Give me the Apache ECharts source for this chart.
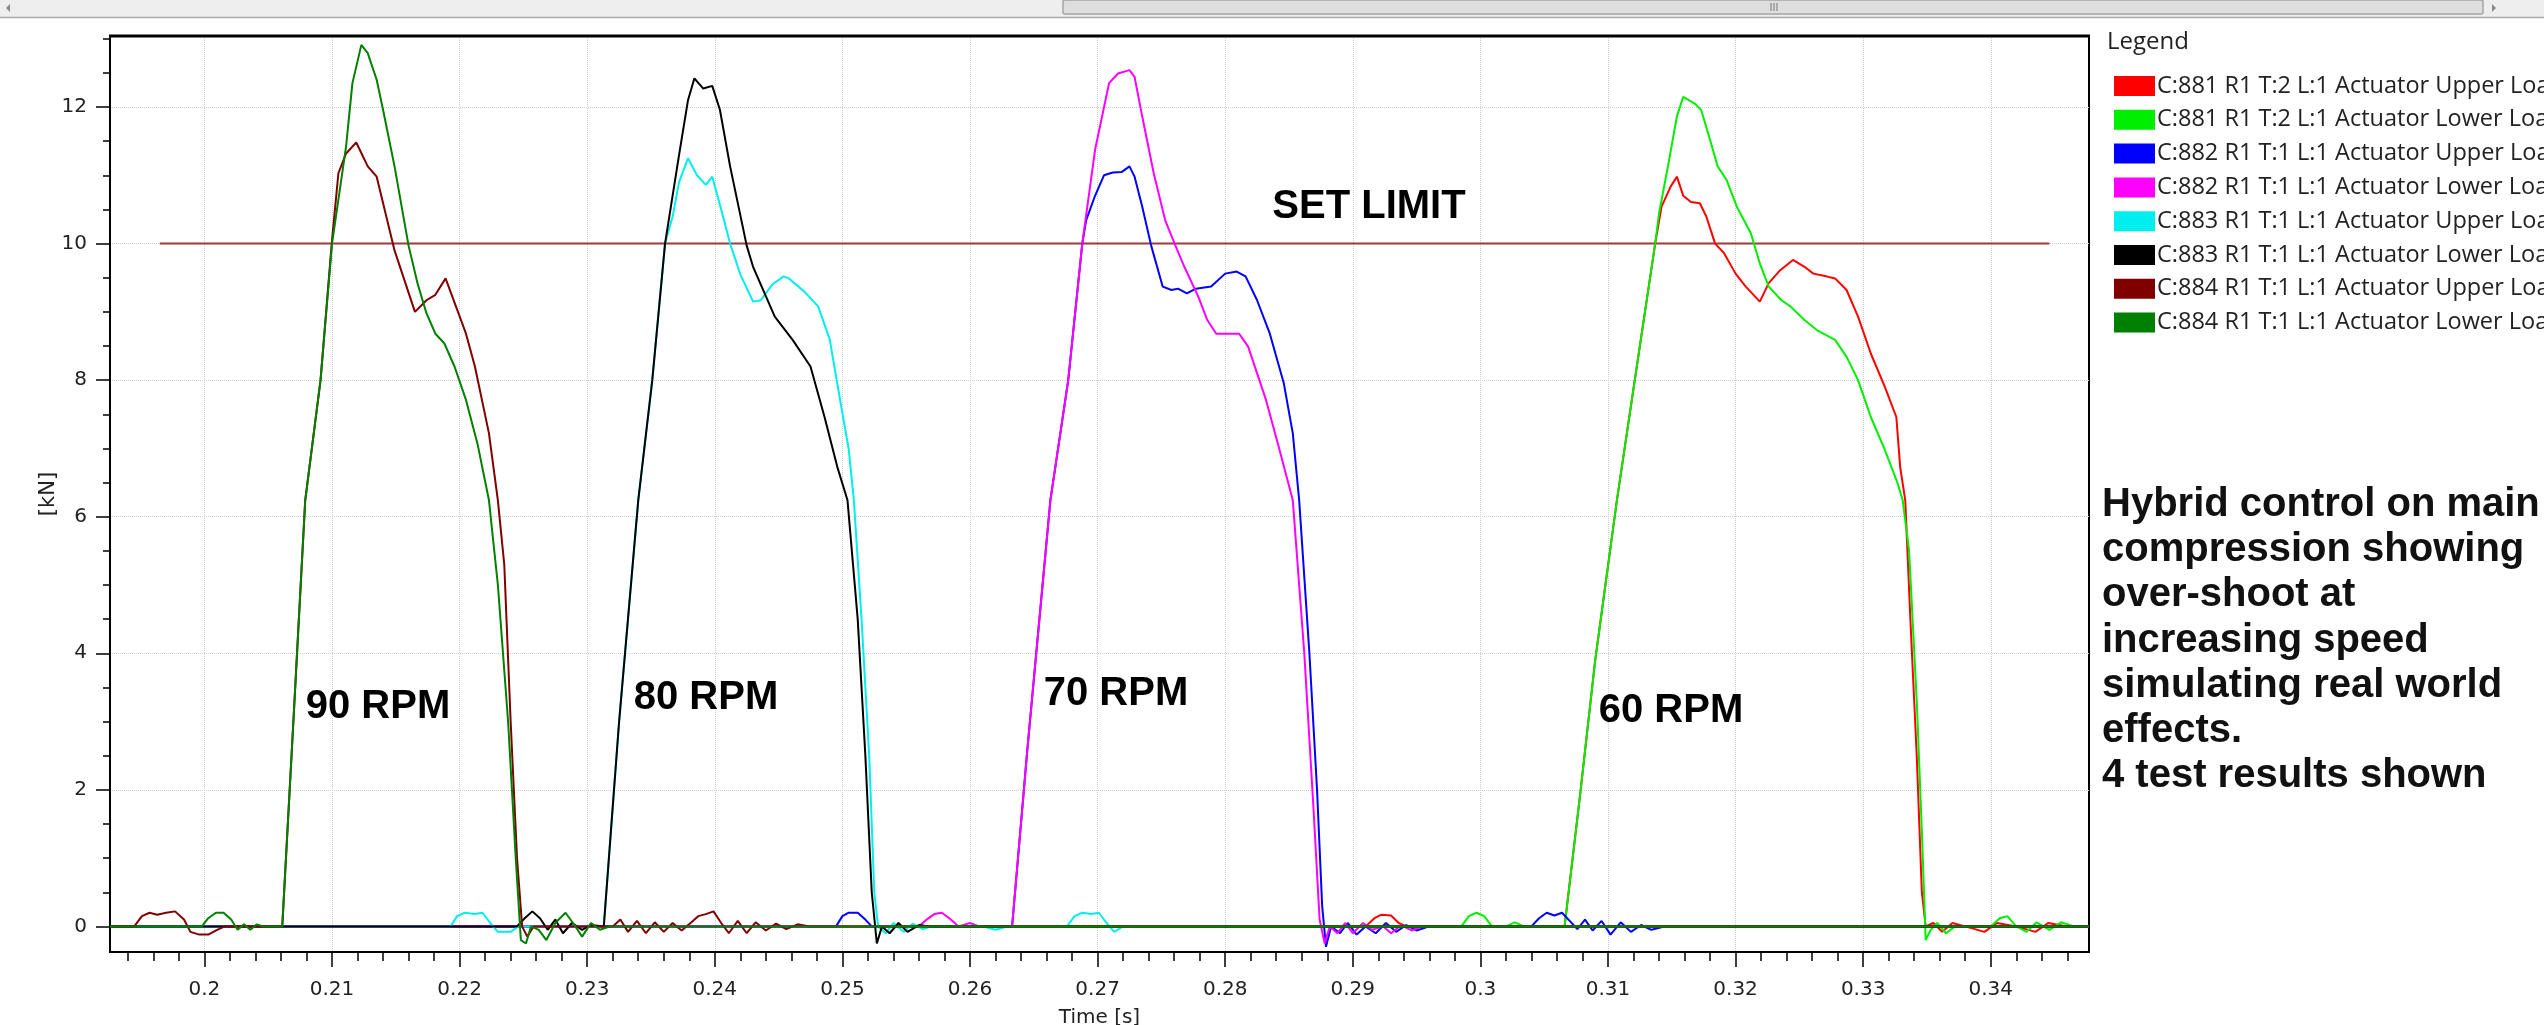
<!DOCTYPE html>
<html><head><meta charset="utf-8">
<script src="https://cdn.jsdelivr.net/npm/echarts@6/dist/echarts.min.js"></script>
<style>html,body{margin:0;padding:0;background:#fff;}#c{width:2544px;height:1025px;}</style>
</head><body><div id="c"></div>
<script>
// ---------- data ----------
const SERIES_NAMES = [
  'C:881 R1 T:2 L:1 Actuator Upper Load',
  'C:881 R1 T:2 L:1 Actuator Lower Load',
  'C:882 R1 T:1 L:1 Actuator Upper Load',
  'C:882 R1 T:1 L:1 Actuator Lower Load',
  'C:883 R1 T:1 L:1 Actuator Upper Load',
  'C:883 R1 T:1 L:1 Actuator Lower Load',
  'C:884 R1 T:1 L:1 Actuator Upper Load',
  'C:884 R1 T:1 L:1 Actuator Lower Load'
];
const X_MIN = 0.1926, X_MAX = 0.3477;
const Y_MIN = -0.375, Y_MAX = 13.04;
const X_MAJOR = [0.2,0.21,0.22,0.23,0.24,0.25,0.26,0.27,0.28,0.29,0.3,0.31,0.32,0.33,0.34];
const X_MINOR = [0.194,0.196,0.198,0.202,0.204,0.206,0.208,0.212,0.214,0.216,0.218,0.222,0.224,0.226,0.228,
  0.232,0.234,0.236,0.238,0.242,0.244,0.246,0.248,0.252,0.254,0.256,0.258,0.262,0.264,0.266,0.268,
  0.272,0.274,0.276,0.278,0.282,0.284,0.286,0.288,0.292,0.294,0.296,0.298,0.302,0.304,0.306,0.308,
  0.312,0.314,0.316,0.318,0.322,0.324,0.326,0.328,0.332,0.334,0.336,0.338,0.342,0.344,0.346];
const Y_MAJOR = [0,2,4,6,8,10,12];
const Y_MINOR = [0.5,1,1.5,2.5,3,3.5,4.5,5,5.5,6.5,7,7.5,8.5,9,9.5,10.5,11,11.5,12.5,13];
const LIMIT_T = [0.1965, 0.3446];
const LIMIT_VALUE = 10;

// C:881 (60 RPM)
const C881_UPPER = [[0.1926,0],[0.2910,0],[0.2917,0.12],[0.2922,0.17],[0.2930,0.16],[0.2936,0.05],[0.2942,0],
  [0.3066,0],[0.3078,1.9],[0.3090,3.9],[0.3107,6.24],[0.3121,8.0],[0.3137,10.0],[0.3142,10.54],[0.3149,10.83],
  [0.3154,10.98],[0.3159,10.7],[0.3165,10.61],[0.3172,10.59],[0.3177,10.4],[0.3184,10.0],[0.3191,9.86],[0.3200,9.56],
  [0.3208,9.37],[0.3219,9.15],[0.3226,9.42],[0.3235,9.61],[0.3245,9.76],[0.3254,9.66],[0.3261,9.56],[0.3271,9.52],
  [0.3278,9.49],[0.3287,9.32],[0.3296,8.93],[0.3306,8.39],[0.3317,7.9],[0.3326,7.46],[0.3329,6.73],[0.3333,6.24],
  [0.3337,4.5],[0.3342,2.5],[0.3346,0.5],[0.3349,0],[0.3355,0.05],[0.3362,-0.08],[0.3370,0.05],[0.3380,0],
  [0.3395,-0.08],[0.3405,0.05],[0.3420,0],[0.3435,-0.08],[0.3445,0.05],[0.3460,0],[0.3477,0]];
const C881_LOWER = [[0.1926,0],[0.2985,0],[0.2991,0.15],[0.2997,0.2],[0.3003,0.15],[0.3009,0],[0.3020,0],[0.3027,0.06],
  [0.3034,0],[0.3066,0],[0.3078,1.9],[0.3090,3.9],[0.3107,6.24],[0.3121,8.0],[0.3137,10.0],[0.3140,10.44],[0.3147,11.13],
  [0.3154,11.86],[0.3159,12.15],[0.3168,12.05],[0.3173,11.96],[0.3180,11.52],[0.3186,11.13],[0.3193,10.93],[0.3201,10.54],
  [0.3212,10.15],[0.3219,9.71],[0.3226,9.37],[0.3236,9.17],[0.3243,9.08],[0.3254,8.88],[0.3264,8.73],[0.3278,8.59],
  [0.3287,8.34],[0.3296,8.0],[0.3306,7.46],[0.3317,6.98],[0.3327,6.49],[0.3331,6.24],[0.3336,5.5],[0.3342,3.3],
  [0.3346,1.4],[0.3349,-0.2],[0.3353,-0.05],[0.3358,0.05],[0.3365,-0.1],[0.3372,0],[0.3400,0],[0.3407,0.12],[0.3413,0.15],
  [0.3420,0],[0.3428,-0.08],[0.3436,0.06],[0.3446,-0.05],[0.3455,0.06],[0.3465,0],[0.3477,0]];
// C:882 (70 RPM)
const C882_UPPER = [[0.1926,0],[0.2495,0],[0.2500,0.15],[0.2505,0.2],[0.2512,0.2],[0.2518,0.1],[0.2523,0],
  [0.2633,0],[0.2645,2.6],[0.2663,6.24],[0.2677,8.0],[0.2688,10.0],[0.2691,10.34],[0.2698,10.7],[0.2705,11.0],
  [0.2712,11.04],[0.2719,11.05],[0.2725,11.13],[0.2729,10.98],[0.2735,10.54],[0.2742,9.97],[0.2751,9.37],[0.2758,9.32],
  [0.2763,9.34],[0.2770,9.27],[0.2777,9.34],[0.2789,9.37],[0.2800,9.56],[0.2809,9.59],[0.2816,9.52],[0.2825,9.17],
  [0.2835,8.68],[0.2846,7.95],[0.2853,7.22],[0.2858,6.24],[0.2866,4.0],[0.2872,2.0],[0.2876,0.3],[0.2879,-0.3],
  [0.2883,0],[0.2890,-0.1],[0.2896,0.05],[0.2903,-0.12],[0.2910,0],[0.2918,-0.1],[0.2926,0.05],[0.2934,-0.08],
  [0.2942,0.02],[0.2950,-0.06],[0.2960,0],[0.3040,0],[0.3046,0.12],[0.3052,0.2],[0.3058,0.16],[0.3064,0.2],
  [0.3070,0.08],[0.3076,-0.04],[0.3082,0.1],[0.3088,-0.06],[0.3095,0.08],[0.3102,-0.12],[0.3110,0.06],[0.3118,-0.08],
  [0.3126,0.02],[0.3134,-0.05],[0.3145,0],[0.3477,0]];
const C882_LOWER = [[0.1926,0],[0.2560,0],[0.2566,0.1],[0.2572,0.18],[0.2578,0.2],[0.2585,0.1],[0.2591,0],[0.2600,0.05],
  [0.2607,0],[0.2633,0],[0.2645,2.6],[0.2663,6.24],[0.2677,8.0],[0.2688,10.0],[0.2698,11.37],[0.2709,12.35],[0.2716,12.49],
  [0.2725,12.54],[0.2729,12.44],[0.2735,11.86],[0.2744,11.03],[0.2753,10.34],[0.2761,9.97],[0.2768,9.66],[0.2779,9.22],
  [0.2786,8.88],[0.2793,8.68],[0.2811,8.68],[0.2818,8.49],[0.2832,7.71],[0.2842,7.02],[0.2853,6.24],[0.2862,4.0],
  [0.2869,1.8],[0.2874,0.1],[0.2878,-0.25],[0.2882,0],[0.2888,-0.1],[0.2894,0.05],[0.2900,-0.1],[0.2908,0.05],
  [0.2915,-0.05],[0.2924,0],[0.2930,-0.1],[0.2938,0.02],[0.2946,-0.06],[0.2955,0],[0.3477,0]];
// C:883 (80 RPM)
const C883_UPPER = [[0.1926,0],[0.2193,0],[0.2198,0.15],[0.2204,0.2],[0.2212,0.18],[0.2218,0.2],[0.2224,0.05],[0.2230,-0.08],
  [0.2240,-0.08],[0.2246,0],[0.2313,0],[0.2325,3.0],[0.2340,6.24],[0.2351,8.0],[0.2361,10.0],[0.2367,10.4],[0.2372,10.9],
  [0.2379,11.25],[0.2386,11.0],[0.2393,10.86],[0.2398,10.98],[0.2405,10.5],[0.2412,10.0],[0.2420,9.55],[0.2430,9.15],
  [0.2436,9.17],[0.2445,9.4],[0.2454,9.52],[0.2458,9.49],[0.2470,9.3],[0.2481,9.08],[0.2490,8.6],[0.2496,7.95],
  [0.2505,6.98],[0.2509,6.24],[0.2515,4.5],[0.2521,2.5],[0.2525,0.5],[0.2528,0],[0.2534,-0.1],[0.2540,0.05],
  [0.2548,-0.08],[0.2555,0.04],[0.2563,-0.04],[0.2570,0],[0.2610,0],[0.2620,-0.05],[0.2630,0],[0.2676,0],[0.2682,0.15],
  [0.2688,0.2],[0.2695,0.18],[0.2701,0.2],[0.2707,0.05],[0.2713,-0.08],[0.2720,0],[0.3477,0]];
const C883_LOWER = [[0.1926,0],[0.2245,0],[0.2251,0.12],[0.2257,0.22],[0.2263,0.12],[0.2269,-0.05],[0.2275,0.1],[0.2281,-0.1],
  [0.2288,0.05],[0.2296,-0.05],[0.2303,0.02],[0.2313,0],[0.2325,3.0],[0.2340,6.24],[0.2351,8.0],[0.2361,10.0],[0.2372,11.3],
  [0.2379,12.1],[0.2384,12.42],[0.2391,12.27],[0.2398,12.31],[0.2404,11.96],[0.2412,11.13],[0.2425,9.97],[0.2430,9.66],
  [0.2447,8.93],[0.2461,8.59],[0.2475,8.2],[0.2486,7.46],[0.2496,6.73],[0.2504,6.24],[0.2512,4.5],[0.2518,2.5],
  [0.2523,0.5],[0.2527,-0.25],[0.2531,0],[0.2537,-0.1],[0.2544,0.05],[0.2551,-0.08],[0.2560,0.02],[0.2568,0],[0.3477,0]];
// C:884 (90 RPM)
const C884_UPPER = [[0.1926,0],[0.1945,0],[0.1951,0.15],[0.1957,0.2],[0.1963,0.17],[0.1970,0.2],[0.1977,0.22],[0.1984,0.1],
  [0.1989,-0.08],[0.1996,-0.12],[0.2003,-0.12],[0.2010,-0.05],[0.2016,0],[0.2061,0],[0.2070,3.1],[0.2079,6.24],[0.2091,8.0],
  [0.2100,10.05],[0.2105,11.03],[0.2111,11.32],[0.2119,11.48],[0.2128,11.13],[0.2135,10.98],[0.2149,9.9],[0.2165,9.0],
  [0.2174,9.17],[0.2181,9.25],[0.2189,9.49],[0.2205,8.68],[0.2212,8.2],[0.2223,7.22],[0.2230,6.24],[0.2235,5.3],
  [0.2240,3.0],[0.2245,1.0],[0.2249,0],[0.2253,-0.15],[0.2258,0],[0.2320,0],[0.2326,0.1],[0.2332,-0.08],[0.2339,0.08],
  [0.2346,-0.1],[0.2353,0.06],[0.2360,-0.08],[0.2367,0.05],[0.2374,-0.06],[0.2381,0.05],[0.2387,0.15],[0.2393,0.18],
  [0.2399,0.22],[0.2405,0.05],[0.2411,-0.1],[0.2418,0.08],[0.2425,-0.1],[0.2432,0.06],[0.2440,-0.06],[0.2448,0.04],
  [0.2456,-0.04],[0.2465,0.03],[0.2474,0],[0.3477,0]];
const C884_LOWER = [[0.1926,0],[0.1998,0],[0.2003,0.12],[0.2009,0.2],[0.2015,0.2],[0.2021,0.1],[0.2026,-0.05],[0.2031,0.03],
  [0.2036,-0.05],[0.2041,0.03],[0.2046,0],[0.2061,0],[0.2070,3.1],[0.2079,6.24],[0.2091,8.0],[0.2100,10.0],[0.2111,11.42],
  [0.2116,12.35],[0.2123,12.91],[0.2128,12.79],[0.2135,12.4],[0.2140,11.96],[0.2149,11.13],[0.2160,9.97],[0.2167,9.42],
  [0.2174,8.98],[0.2181,8.68],[0.2188,8.54],[0.2196,8.2],[0.2205,7.71],[0.2214,7.07],[0.2223,6.24],[0.2230,5.0],
  [0.2238,3.0],[0.2244,1.0],[0.2248,-0.2],[0.2252,-0.25],[0.2256,0],[0.2262,-0.05],[0.2268,-0.2],[0.2275,0.05],
  [0.2283,0.2],[0.2290,0.02],[0.2296,-0.15],[0.2303,0.05],[0.2310,-0.05],[0.2318,0],[0.3477,0]];

const SERIES_DATA = [C881_UPPER, C881_LOWER, C882_UPPER, C882_LOWER, C883_UPPER, C883_LOWER, C884_UPPER, C884_LOWER];
const SERIES_COLORS = ['#ff0000','#00ee00','#0000ff','#ff00ff','#00eeee','#000000','#800000','#008000'];

const RPM_LABELS = ['90 RPM','80 RPM','70 RPM','60 RPM'];
const NOTE_TEXT = 'Hybrid control on main\ncompression showing\nover-shoot at\nincreasing speed\nsimulating real world\neffects.\n4 test results shown';

// ---------- chart ----------
const chart = echarts.init(document.getElementById('c'), null, {renderer:'canvas'});
const FONT = '"Open Sans", "Noto Sans", sans-serif';
const AXFONT = '"DejaVu Sans", Verdana, sans-serif';
const BOLD = '"Liberation Sans", Arial, sans-serif';

const series = SERIES_NAMES.map((n,i)=>({
  name:n, type:'line', xAxisIndex:0, yAxisIndex:0, data:SERIES_DATA[i],
  showSymbol:false, symbol:'none', smooth:false, animation:false,
  lineStyle:{width:2, color:SERIES_COLORS[i]}, itemStyle:{color:SERIES_COLORS[i]}, z:2+i
}));
series.unshift({
  name:'SET LIMIT', type:'line', xAxisIndex:0, yAxisIndex:0,
  data: LIMIT_T.map(t=>[t, LIMIT_VALUE]), showSymbol:false, symbol:'none', animation:false,
  lineStyle:{width:2, color:'#9a3c3c'}, itemStyle:{color:'#9a3c3c'}, z:1
});

const RPM_POS = [[378,707],[706,698],[1116,694],[1671,711]];

const graphic = [
  {type:'rect', shape:{x:0,y:0,width:2544,height:17}, style:{fill:'#eeeeee'}, z:100},
  {type:'line', shape:{x1:0,y1:17.5,x2:2544,y2:17.5}, style:{stroke:'#a8a8a8', lineWidth:1.5}, z:101},
  {type:'rect', shape:{x:1063,y:0,width:1420,height:14, r:2}, style:{fill:'#dedede', stroke:'#a4a4a4', lineWidth:1.5}, z:101},
  {type:'line', shape:{x1:1771,y1:3,x2:1771,y2:11}, style:{stroke:'#777', lineWidth:1}, z:102},
  {type:'line', shape:{x1:1774,y1:3,x2:1774,y2:11}, style:{stroke:'#777', lineWidth:1}, z:102},
  {type:'line', shape:{x1:1777,y1:3,x2:1777,y2:11}, style:{stroke:'#777', lineWidth:1}, z:102},
  {type:'polygon', shape:{points:[[10,4],[10,12],[6,8]]}, style:{fill:'#888'}, z:102},
  {type:'polygon', shape:{points:[[2492,4],[2492,12],[2496,8]]}, style:{fill:'#888'}, z:102},
  {type:'line', shape:{x1:109,y1:36,x2:2090,y2:36}, style:{stroke:'#000', lineWidth:3}, z:100},
  {type:'text', style:{text:'Legend', x:2107, y:42, font:'24px '+FONT, fill:'#222', verticalAlign:'middle', textVerticalAlign:'middle'}, z:100},
  {type:'text', style:{text:'SET LIMIT', x:1369, y:207, font:'bold 40px '+BOLD, fill:'#000', align:'center', verticalAlign:'middle', textAlign:'center', textVerticalAlign:'middle'}, z:100},
  {type:'text', style:{text:NOTE_TEXT, x:2102, y:482, font:'bold 40px '+BOLD, lineHeight:45.3, fill:'#111', verticalAlign:'top', textVerticalAlign:'top'}, z:100}
];
RPM_LABELS.forEach((t,i)=>graphic.push({type:'text', style:{text:t, x:RPM_POS[i][0], y:RPM_POS[i][1], font:'bold 40px '+BOLD, fill:'#000', align:'center', verticalAlign:'middle', textAlign:'center', textVerticalAlign:'middle'}, z:100}));

const option = {
  animation:false,
  backgroundColor:'#ffffff',
  grid:{left:110, right:455, top:36, bottom:73, show:true, borderColor:'#000', borderWidth:2, backgroundColor:'transparent', containLabel:false, outerBoundsMode:'none'},
  legend:{
    orient:'vertical', left:2109, top:69, itemWidth:41, itemHeight:20, itemGap:9.8, icon:'rect', selectedMode:false,
    data:SERIES_NAMES, itemStyle:{borderWidth:0},
    textStyle:{fontFamily:FONT, fontSize:23.5, color:'#222', padding:[0,0,0,-3]}
  },
  xAxis:[
    {type:'value', min:X_MIN, max:X_MAX, position:'bottom',
     name:'Time [s]', nameLocation:'middle', nameGap:56, nameMoveOverlap:false, nameTextStyle:{fontFamily:AXFONT, fontSize:20, color:'#222'},
     axisLine:{show:true, onZero:false, lineStyle:{color:'#000', width:2}},
     axisTick:{show:true, customValues:X_MAJOR, length:15, lineStyle:{color:'#000', width:1.5}},
     axisLabel:{show:true, customValues:X_MAJOR, fontFamily:AXFONT, fontSize:20, color:'#222', margin:28, formatter:v=>String(+v.toFixed(2))},
     splitLine:{show:true, lineStyle:{color:'#cfcfcf', width:1, type:'dotted'}}},
    {type:'value', min:X_MIN, max:X_MAX, position:'bottom', offset:0,
     axisLine:{show:false, onZero:false},
     axisTick:{show:true, customValues:X_MINOR, length:9, lineStyle:{color:'#000', width:1.5}},
     axisLabel:{show:false}, splitLine:{show:false}}
  ],
  yAxis:[
    {type:'value', min:Y_MIN, max:Y_MAX, position:'left',
     name:'[kN]', nameLocation:'middle', nameGap:51, nameMoveOverlap:false, nameTextStyle:{fontFamily:AXFONT, fontSize:21, color:'#222'},
     axisLine:{show:true, onZero:false, lineStyle:{color:'#000', width:2}},
     axisTick:{show:true, customValues:Y_MAJOR, length:14, lineStyle:{color:'#000', width:1.5}},
     axisLabel:{show:true, customValues:Y_MAJOR, fontFamily:AXFONT, fontSize:20, color:'#222', margin:23},
     splitLine:{show:true, lineStyle:{color:'#cfcfcf', width:1, type:'dotted'}}},
    {type:'value', min:Y_MIN, max:Y_MAX, position:'left', offset:0,
     axisLine:{show:false, onZero:false},
     axisTick:{show:true, customValues:Y_MINOR, length:7, lineStyle:{color:'#000', width:1.5}},
     axisLabel:{show:false}, splitLine:{show:false}}
  ],
  series:series,
  graphic:graphic
};
chart.setOption(option);
</script>
</body></html>
